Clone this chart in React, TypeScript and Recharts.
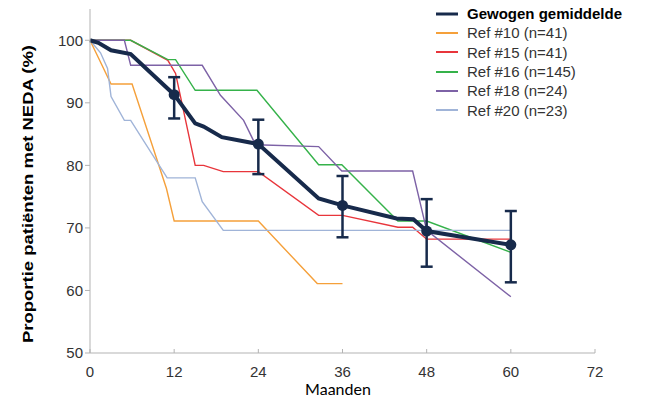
import React from 'react';
import { ComposedChart, Line, Scatter, ErrorBar, XAxis, YAxis } from 'recharts';

// gewogen gemiddelde + referentiecurves (maanden, % NEDA)
const weighted = [
  { x: 0, y: 100 }, { x: 1.2, y: 99.6 }, { x: 3, y: 98.4 }, { x: 5.8, y: 97.8 },
  { x: 12, y: 91.3 }, { x: 15, y: 86.7 }, { x: 16.2, y: 86.2 }, { x: 18.8, y: 84.5 },
  { x: 24, y: 83.4 }, { x: 32.6, y: 74.7 }, { x: 36, y: 73.6 }, { x: 43.7, y: 71.5 },
  { x: 46.1, y: 71.4 }, { x: 48, y: 69.5 }, { x: 60, y: 67.3 },
];
const ref10 = [
  { x: 0, y: 100 }, { x: 3, y: 93 }, { x: 6, y: 93 }, { x: 10.9, y: 76.3 },
  { x: 12, y: 71.1 }, { x: 24, y: 71.1 }, { x: 32.4, y: 61.1 }, { x: 36, y: 61.1 },
];
const ref15 = [
  { x: 0, y: 100 }, { x: 5.8, y: 100 }, { x: 11.1, y: 96.8 }, { x: 12.2, y: 94.7 },
  { x: 15, y: 80 }, { x: 16.2, y: 80 }, { x: 19, y: 79 }, { x: 24, y: 79 },
  { x: 32.6, y: 72 }, { x: 36, y: 72 }, { x: 43.9, y: 70.1 }, { x: 46, y: 70.1 },
  { x: 48, y: 68.2 }, { x: 60, y: 68.2 },
];
const ref16 = [
  { x: 0, y: 100 }, { x: 5.8, y: 100 }, { x: 11.1, y: 96.9 }, { x: 12.2, y: 96.9 },
  { x: 15, y: 92 }, { x: 23.8, y: 92 }, { x: 32.6, y: 80.1 }, { x: 35.9, y: 80.1 },
  { x: 43.9, y: 71.1 }, { x: 48, y: 71.1 }, { x: 60, y: 66.1 },
];
const ref18 = [
  { x: 0, y: 100 }, { x: 4.9, y: 100 }, { x: 5.8, y: 96 }, { x: 16, y: 96 },
  { x: 18.6, y: 91.2 }, { x: 21.9, y: 87.2 }, { x: 23.6, y: 83.3 }, { x: 32.6, y: 83 },
  { x: 35.9, y: 79.1 }, { x: 46, y: 79.1 }, { x: 48, y: 69.6 }, { x: 60, y: 59 },
];
const ref20 = [
  { x: 0, y: 100 }, { x: 1.5, y: 98 }, { x: 2.5, y: 95.5 }, { x: 3, y: 91 },
  { x: 4.9, y: 87.2 }, { x: 5.8, y: 87.2 }, { x: 11, y: 78 }, { x: 15, y: 78 },
  { x: 16, y: 74.2 }, { x: 19, y: 69.6 }, { x: 60, y: 69.6 },
];
// punten met betrouwbaarheidsinterval [onder, boven]
const ciPoints = [
  { x: 12, y: 91.3, err: [3.8, 2.8] },
  { x: 24, y: 83.4, err: [4.8, 3.9] },
  { x: 36, y: 73.6, err: [5.1, 4.7] },
  { x: 48, y: 69.5, err: [5.7, 5.1] },
  { x: 60, y: 67.3, err: [6.0, 5.4] },
];
const xTicks = [0, 12, 24, 36, 48, 60, 72];
const yTicks = [50, 60, 70, 80, 90, 100];

const NAVY = '#172a4b';
const series = [
  { name: 'Ref #10 (n=41)', data: ref10, color: '#f5a03a' },
  { name: 'Ref #15 (n=41)', data: ref15, color: '#e8353b' },
  { name: 'Ref #16 (n=145)', data: ref16, color: '#35b24a' },
  { name: 'Ref #18 (n=24)', data: ref18, color: '#7d62a6' },
  { name: 'Ref #20 (n=23)', data: ref20, color: '#a0b4d8' },
];
const legendItems = [{ name: 'Gewogen gemiddelde', color: NAVY }, ...series];

const FONT = '"Liberation Sans", Arial, sans-serif';
const AXIS = '#b3b3b3';

const XTick = (props: any) => {
  const { x, y, payload } = props;
  return (
    <g>
      <line x1={x} x2={x} y1={y - 4} y2={y} stroke={AXIS} />
      <text x={x} y={y + 24} textAnchor="middle" fontSize={15} fill="#333" fontFamily={FONT}>
        {payload.value}
      </text>
    </g>
  );
};

// legenda los van de grafiek, zodat de plot niet verschuift
const LegendBox = () => (
  <div style={{ position: 'absolute', left: 436, top: 4, fontFamily: FONT, fontSize: 15, whiteSpace: 'nowrap' }}>
    {legendItems.map((it, i) => (
      <div key={it.name} style={{ display: 'flex', alignItems: 'center', height: 19.3 }}>
        <svg width={22} height={4} style={{ marginRight: 9 }}>
          <line x1={0} x2={22} y1={2} y2={2} stroke={it.color} strokeWidth={i === 0 ? 3 : 2} />
        </svg>
        <span style={{ color: i === 0 ? '#000' : '#333', fontWeight: i === 0 ? 'bold' : 'normal' }}>{it.name}</span>
      </div>
    ))}
  </div>
);

export default function App() {
  return (
    <div style={{ position: 'absolute', left: 0, top: 0, width: 646, height: 398, background: '#fff' }}>
      <ComposedChart width={646} height={398} margin={{ top: 9, right: 51, bottom: 0, left: 0 }}>
        <XAxis
          type="number"
          dataKey="x"
          domain={[0, 72]}
          ticks={xTicks}
          allowDuplicatedCategory={false}
          stroke={AXIS}
          tickLine={false}
          tickSize={0}
          tickMargin={0}
          tick={<XTick />}
          height={45}
          label={{
            content: () => (
              <text x={338} y={395} textAnchor="middle" fontSize={16} fill="#000" fontFamily="Lato, sans-serif">
                Maanden
              </text>
            ),
          }}
        />
        <YAxis
          type="number"
          domain={[50, 105]}
          ticks={yTicks}
          width={90}
          stroke={AXIS}
          tickSize={5}
          tick={{ fill: '#333', fontSize: 15, fontFamily: FONT }}
          label={{
            content: () => (
              <text
                x={33}
                y={194}
                transform="rotate(-90 33 194)"
                textAnchor="middle"
                fontSize={15}
                fontWeight="bold"
                fill="#000"
                fontFamily={FONT}
                textLength={298}
                lengthAdjust="spacingAndGlyphs"
              >
                Proportie patiënten met NEDA (%)
              </text>
            ),
          }}
        />
        {series.map((s) => (
          <Line
            key={s.name}
            data={s.data}
            dataKey="y"
            name={s.name}
            type="linear"
            stroke={s.color}
            strokeWidth={1.4}
            dot={false}
            isAnimationActive={false}
          />
        ))}
        <Line
          data={weighted}
          dataKey="y"
          name="Gewogen gemiddelde"
          type="linear"
          stroke={NAVY}
          strokeWidth={4}
          dot={false}
          isAnimationActive={false}
        />
        <Scatter
          data={ciPoints}
          dataKey="y"
          fill={NAVY}
          isAnimationActive={false}
          shape={(p: any) => <circle cx={p.cx} cy={p.cy} r={5.5} fill={NAVY} />}
        >
          <ErrorBar dataKey="err" direction="y" width={6} stroke={NAVY} strokeWidth={2.5} isAnimationActive={false} />
        </Scatter>
      </ComposedChart>
      <LegendBox />
    </div>
  );
}
